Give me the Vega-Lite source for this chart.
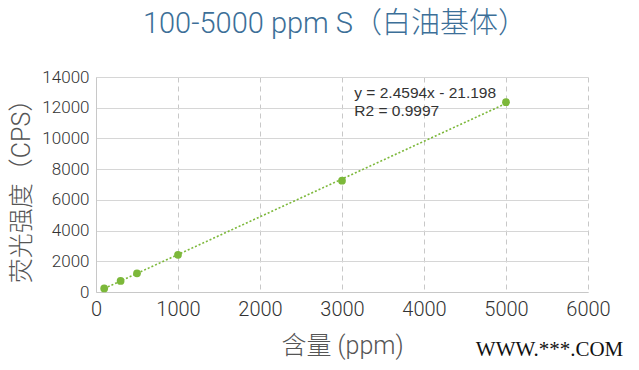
{
  "$schema": "https://vega.github.io/schema/vega-lite/v6.json",
  "width": 492,
  "height": 215,
  "autosize": "none",
  "padding": {"left": 96, "top": 77, "right": 51, "bottom": 78},
  "background": "white",
  "config": {"view": {"stroke": null}},
  "title": {
    "text": "100-5000 ppm S（白油基体）",
    "font": "Roboto, Noto Sans CJK SC",
    "fontWeight": 300,
    "fontSize": 29,
    "color": "#3c6f98",
    "anchor": "middle",
    "dx": -7,
    "offset": 29
  },
  "datasets": {
    "points": [
      {"ppm": 100, "cps": 230},
      {"ppm": 300, "cps": 720},
      {"ppm": 500, "cps": 1220},
      {"ppm": 1000, "cps": 2420},
      {"ppm": 3000, "cps": 7250},
      {"ppm": 5000, "cps": 12360}
    ],
    "trend": [
      {"ppm": 100, "cps": 225},
      {"ppm": 5000, "cps": 12276}
    ]
  },
  "layer": [
    {
      "data": {"name": "trend"},
      "mark": {"type": "line", "color": "#7cb83a", "strokeWidth": 1.6, "strokeDash": [2, 2]},
      "encoding": {
        "x": {
          "field": "ppm", "type": "quantitative",
          "scale": {"domain": [0, 6000], "nice": false},
          "axis": {
            "values": [0, 1000, 2000, 3000, 4000, 5000, 6000],
            "format": "d",
            "labelOverlap": false,
            "title": "含量 (ppm)",
            "titleFont": "Roboto, Noto Sans CJK SC",
            "titleFontWeight": 300,
            "titleFontSize": 25,
            "titleColor": "#555555",
            "titlePadding": 14,
            "labelFont": "Roboto",
            "labelFontWeight": 300,
            "labelFontSize": 20,
            "labelColor": "#333333",
            "labelPadding": 7,
            "labelFlush": false,
            "ticks": false,
            "domainColor": "#c8c8c8",
            "grid": true,
            "gridColor": "#c8c8c8",
            "gridDash": [5, 4],
            "gridWidth": 1
          }
        },
        "y": {
          "field": "cps", "type": "quantitative",
          "scale": {"domain": [0, 14000], "nice": false},
          "axis": {
            "values": [0, 2000, 4000, 6000, 8000, 10000, 12000, 14000],
            "format": "d",
            "labelOverlap": false,
            "title": "荧光强度（CPS）",
            "titleFont": "Roboto, Noto Sans CJK SC",
            "titleFontWeight": 300,
            "titleFontSize": 25,
            "titleColor": "#555555",
            "titlePadding": 7,
            "labelFont": "Roboto",
            "labelFontWeight": 300,
            "labelFontSize": 17,
            "labelColor": "#333333",
            "labelPadding": 7,
            "labelFlush": false,
            "ticks": false,
            "domainColor": "#c8c8c8",
            "grid": true,
            "gridColor": "#d6d6d6",
            "gridWidth": 1
          }
        }
      }
    },
    {
      "data": {"name": "points"},
      "mark": {"type": "circle", "color": "#7cb83a", "opacity": 1, "size": 60},
      "encoding": {
        "x": {"field": "ppm", "type": "quantitative", "axis": {"values": [0, 1000, 2000, 3000, 4000, 5000, 6000]}},
        "y": {"field": "cps", "type": "quantitative", "axis": {"values": [0, 2000, 4000, 6000, 8000, 10000, 12000, 14000]}}
      }
    },
    {
      "data": {"values": [{"label": "y = 2.4594x - 21.198\nR2 = 0.9997"}]},
      "mark": {"type": "text", "align": "left", "baseline": "middle", "lineBreak": "\n", "lineHeight": 18, "font": "Liberation Sans", "fontSize": 15.5, "color": "#333333"},
      "encoding": {
        "x": {"datum": 3150, "axis": {"values": [0, 1000, 2000, 3000, 4000, 5000, 6000]}},
        "y": {"datum": 12950, "axis": {"values": [0, 2000, 4000, 6000, 8000, 10000, 12000, 14000]}},
        "text": {"field": "label"}
      }
    },
    {
      "data": {"values": [{"label": "WWW.***.COM"}]},
      "mark": {"type": "text", "align": "right", "baseline": "middle", "clip": false, "font": "Liberation Serif", "fontSize": 21, "color": "#111111"},
      "encoding": {
        "x": {"datum": 6430, "axis": {"values": [0, 1000, 2000, 3000, 4000, 5000, 6000]}},
        "y": {"datum": -3800, "axis": {"values": [0, 2000, 4000, 6000, 8000, 10000, 12000, 14000]}},
        "text": {"field": "label"}
      }
    }
  ]
}
